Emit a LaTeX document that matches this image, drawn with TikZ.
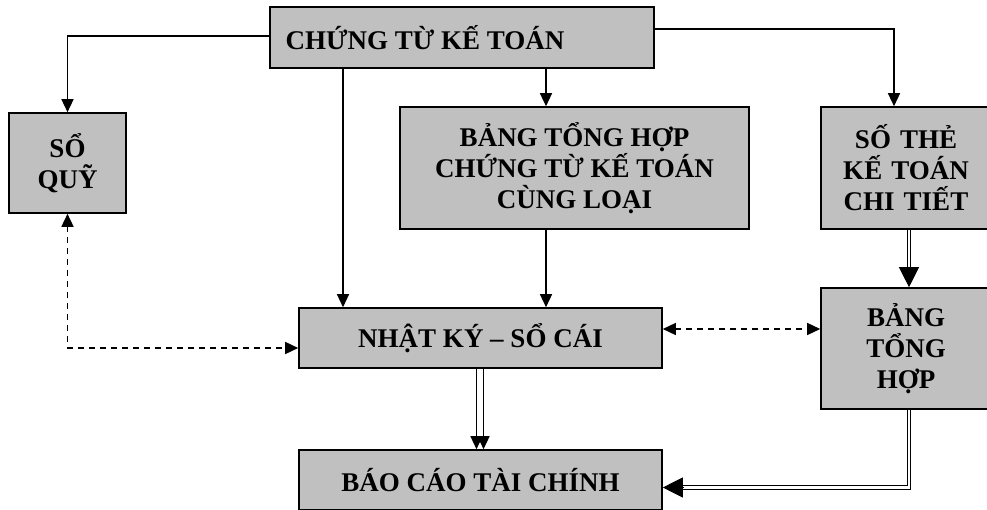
\documentclass[tikz,border=0pt]{standalone}
\usepackage{fontspec}
\setmainfont{Liberation Serif}
\usetikzlibrary{arrows.meta,calc}
\tikzset{
  box/.style={draw=black,line width=1.6pt,fill=boxgray,align=center,inner sep=0pt,
    font=\bfseries\fontsize{27}{31}\selectfont},
  arr/.style={line width=1.4pt,-{Triangle[length=13pt,width=12pt]}},
  darr/.style={line width=1.5pt,dashed,dash pattern=on 6pt off 5pt,{Triangle[length=13pt,width=12pt]}-{Triangle[length=13pt,width=12pt]}},
  dbl/.style={draw=black,double=white,double distance=2.6pt,line width=1.1pt},
  bigtip/.style={line width=1pt,-{Triangle[length=20pt,width=20pt]}},
}
\definecolor{boxgray}{HTML}{C0C0C0}
\begin{document}
\begin{tikzpicture}[x=1pt,y=-1pt]
\useasboundingbox (0,0) rectangle (987,510);
\clip (0,0) rectangle (987,510);
\node[box,minimum width=384pt,minimum height=61pt] (top) at (462,37.5) {\hspace*{-74pt}CHỨNG TỪ KẾ TOÁN};
\node[box,minimum width=117pt,minimum height=100pt] (sq) at (67.5,163) {SỔ\\QUỸ};
\node[box,minimum width=349pt,minimum height=122pt] (bth) at (574.5,168) {BẢNG TỔNG HỢP\\CHỨNG TỪ KẾ TOÁN\\CÙNG LOẠI};
\node[box,minimum width=170pt,minimum height=122pt,text width=170pt] (st) at (906,168) {SỐ THẺ\\KẾ TOÁN\\CHI TIẾT};
\node[box,minimum width=363pt,minimum height=60pt] (nk) at (480.5,338) {NHẬT KÝ – SỔ CÁI};
\node[box,minimum width=170pt,minimum height=121pt,text width=170pt] (bt) at (906,348.5) {BẢNG\\TỔNG\\HỢP};
\node[box,minimum width=363pt,minimum height=60pt] (bc) at (480.5,480) {BÁO CÁO TÀI CHÍNH};
\coordinate (xa) at (343,0);
\coordinate (xb) at (546,0);
\coordinate (xc) at (894,0);
\coordinate (xd) at (909,0);
\coordinate (ya) at (0,487.5);
% solid arrows
\draw[arr] ([yshift=1.5pt]top.west) -| (sq.north);
\draw[arr] (top.south -| xa) -- (nk.north -| xa);
\draw[arr] (top.south -| xb) -- (bth.north -| xb);
\draw[arr] (bth.south -| xb) -- (nk.north -| xb);
\draw[arr] ([yshift=8.5pt]top.east) -| (st.north -| xc);
% dashed
\draw[darr] (sq.south) |- ([yshift=-10pt]nk.west);
\draw[darr] ([yshift=9pt]nk.east) -- ([yshift=9pt]nk.east -| bt.west);
% double: SO THE -> BANG TONG HOP
\draw[dbl,shorten >=18pt] (st.south -| xd) -- (bt.north -| xd);
\draw[bigtip] ([yshift=20pt]bt.north -| xd) -- (bt.north -| xd);
% double arrows NK -> BC
\draw[arr] ([xshift=-4pt]nk.south) -- ([xshift=-4pt]bc.north);
\draw[arr] ([xshift=3pt]nk.south) -- ([xshift=3pt]bc.north);
% double: BT -> BC
\draw[dbl,shorten >=18pt] (bt.south -| xd) |- (bc.east |- ya);
\draw[bigtip] ([xshift=20pt]bc.east |- ya) -- (bc.east |- ya);
\end{tikzpicture}
\end{document}
